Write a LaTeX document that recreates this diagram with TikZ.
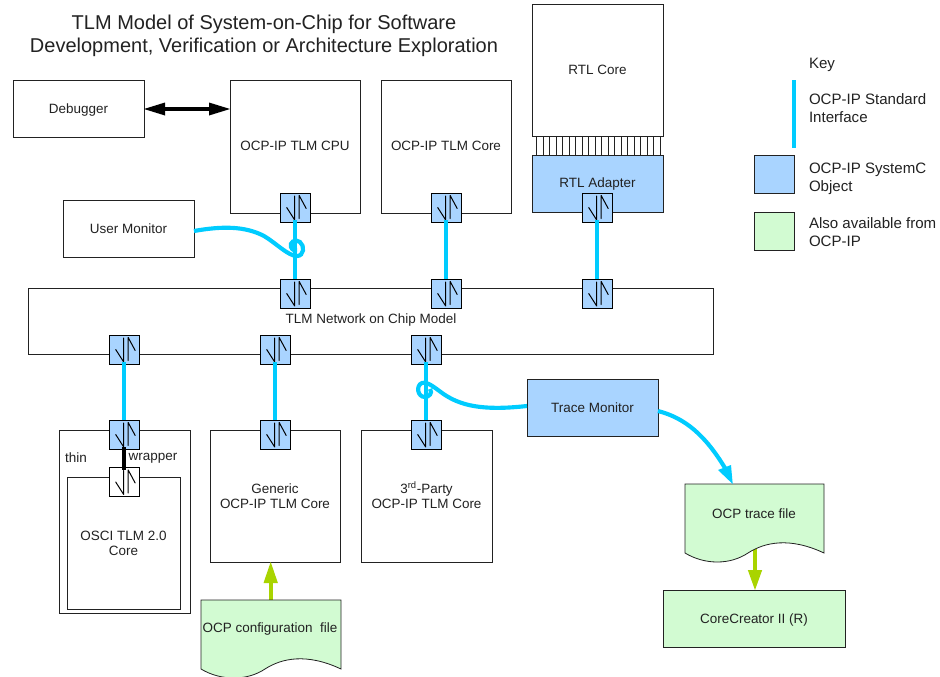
\documentclass[tikz,border=0pt]{standalone}
\usepackage{fontspec}
\setmainfont{Liberation Sans}
\usetikzlibrary{arrows.meta}
\definecolor{ipblue}{HTML}{A9D4FF}
\definecolor{ipgreen}{HTML}{D2FBD2}
\definecolor{ipcyan}{HTML}{00CCFF}
\definecolor{ipolive}{HTML}{A9D400}
\definecolor{ink}{HTML}{222222}
\tikzset{
  x=0.75pt,y=-0.75pt,
  sz/.style 2 args={minimum width=#1*0.75pt,minimum height=#2*0.75pt},
  boxnode/.style={draw=ink,line width=0.6pt,fill=white,inner sep=0pt,outer sep=0pt,text=ink,align=center,text height=7.2pt,text depth=0pt,font=\fontsize{10.1}{11.3}\selectfont},
  bluebox/.style={boxnode,fill=ipblue},
  greenbox/.style={boxnode,fill=ipgreen},
  portnode/.style={draw=black,line width=0.65pt,fill=ipblue,inner sep=0pt,outer sep=0pt,sz={30}{29}},
  whiteport/.style={portnode,fill=white},
  label/.style={inner sep=0pt,outer sep=0pt,text=ink,align=center,font=\fontsize{10.1}{11.3}\selectfont},
  keylabel/.style={inner sep=0pt,outer sep=0pt,text=ink,align=left,anchor=west,font=\fontsize{11.3}{13.5}\selectfont},
  cyanlink/.style={draw=ipcyan,line width=3.5pt},
  curvelink/.style={draw=ipcyan,line width=3.1pt},
  olivelink/.style={draw=ipolive,line width=3.2pt,line cap=round},
  glyph/.style={draw=black,line width=0.75pt,line cap=round,line join=round},
  docshape/.style={draw=ink,line width=0.6pt,fill=ipgreen}
}
\newcommand{\portglyph}[1]{%
  \draw[glyph] (#1) ++(-0.3,-11.5) -- ++(0,24) -- ++(-8,-12.5);
  \draw[glyph] (#1) ++(4.2,11) -- ++(0,-23) -- ++(7,13);
}
\begin{document}
\begin{tikzpicture}
\useasboundingbox (0,0) rectangle (940,676);
\fill[white] (0,0) rectangle (940,676);

% title
\node[inner sep=0pt,align=center,text=ink,font=\fontsize{15}{17.25}\selectfont] (title) at (264,36) {TLM Model of System-on-Chip for Software\\Development, Verification or Architecture Exploration};

% boxes
\node[boxnode,sz={131}{57}] (debugger) at (78.5,108.5) {Debugger};
\node[boxnode,sz={130}{133}] (cpu) at (295,146.5) {};
\node[label] (cputext) at (295,145.5) {OCP-IP TLM CPU};
\node[boxnode,sz={130}{133}] (core) at (446,146.5) {};
\node[label] (coretext) at (446,145.5) {OCP-IP TLM Core};
\node[boxnode,sz={131}{132}] (rtlcore) at (597.5,70) {RTL Core};
\node[bluebox,sz={131}{57}] (adapter) at (597.5,183.5) {};
\node[label] (adaptertext) at (597.5,184) {RTL Adapter};
\node[boxnode,sz={131}{57}] (usermon) at (128.5,228.5) {User Monitor};
\node[boxnode,sz={685}{66}] (bus) at (370.5,321) {};
\node[label] (bustext) at (371,320.5) {TLM Network on Chip Model};
\node[boxnode,sz={131}{183}] (wrapper) at (124.5,521.5) {};
\node[boxnode,sz={113}{132}] (inner) at (123.5,543) {};
\node[label] (innertext) at (123.5,543) {OSCI TLM 2.0\\Core};
\node[boxnode,sz={130}{132}] (generic) at (275,496) {};
\node[label] (generictext) at (275,496) {Generic\\OCP-IP TLM Core};
\node[boxnode,sz={131}{132}] (third) at (426.5,496) {};
\node[label] (thirdtext) at (426.5,495) {3\textsuperscript{rd}-Party\\OCP-IP TLM Core};
\node[bluebox,sz={131}{57}] (tracemon) at (592.5,407.5) {Trace Monitor};
\node[greenbox,sz={182}{57}] (corecreator) at (754,618.5) {CoreCreator II (R)};

% comb between RTL core and adapter
\foreach \cx in {536.5,543,...,660}
  \draw[draw=ink,line width=0.5pt] (\cx,136) -- (\cx,155);

\node[label] at (76,458) (thin) {thin};
\node[label] at (153,458) (wrap) {wrapper};

% olive arrows run behind the documents
\coordinate (tfout) at (755,548);
\draw[olivelink] (tfout) -- ([yshift=10pt]corecreator.north -| tfout);
\fill[ipolive] (corecreator.north -| tfout) -- +(-7.2,-20) -- +(7.2,-20) -- cycle;
\coordinate (cfout) at (270.7,601);
\draw[olivelink] (cfout) -- (270.7,580);
\fill[ipolive] (generic.south -| cfout) -- +(-7.2,21) -- +(7.2,21) -- cycle;

% documents
\draw[docshape] (685,484) -- (824,484) -- (824,553) .. controls (790,537) and (765,542) .. (748,553) .. controls (730,565) and (705,565) .. (685,553) -- cycle;
\node[label] (tracefile) at (754,514) {OCP trace file};
\draw[docshape] (201,600) -- (341,600) -- (341,669) .. controls (307,653) and (282,658) .. (265,669) .. controls (247,681) and (221,681) .. (201,669) -- cycle;
\node[label] (configfile) at (270,629) {OCP configuration\ \ file};

% key
\node[keylabel] (keytitle) at (809,65) {Key};
\coordinate (keya) at (794,80);
\coordinate (keyb) at (794,148);
\draw[cyanlink] (keya) -- (keyb);
\node[keylabel] (keyline) at (809,108) {OCP-IP Standard\\Interface};
\node[bluebox,sz={40}{38}] (keyblue) at (774,174) {};
\node[keylabel] (keybluetext) at (809,178.5) {OCP-IP SystemC\\Object};
\node[greenbox,sz={40}{38}] (keygreen) at (774,231) {};
\node[keylabel] (keygreentext) at (809,232.5) {Also available from\\OCP-IP};

% ports
\foreach \n/\px/\py in {pa/295/207.5,pb/295/293.5,pc/446/207.5,pd/446/293.5,pe/597/207.5,pf/597/293.5,pg/124/349.5,ph/275/349.5,pi/426/349.5,pj/124/434.5,pk/275/434.5,pl/426/434.5}{
  \node[portnode] (\n) at (\px,\py) {};
  \portglyph{\n}
}
\node[whiteport] (pm) at (124,482) {};
\portglyph{pm}

% connectors
\draw[black,line width=3.6pt] ([yshift=1.5pt]pj.south) -- ([yshift=-1.5pt]pm.north);
\draw[cyanlink] ([yshift=1.5pt]pa.south) -- (pb.north);
\draw[cyanlink] ([yshift=1.5pt]pc.south) -- (pd.north);
\draw[cyanlink] ([yshift=1.5pt]pe.south) -- (pf.north);
\draw[cyanlink] ([yshift=1.5pt]pg.south) -- (pj.north);
\draw[cyanlink] ([yshift=1.5pt]ph.south) -- (pk.north);
\draw[cyanlink] ([yshift=1.5pt]pi.south) -- (pl.north);

% monitor curves with a small loop
\coordinate (umend) at (usermon.east |- 0,231);
\draw[curvelink] (umend) .. controls (222,226) and (245,226) .. (264,236) .. controls (276,243) and (288,256) .. (297,256) .. controls (304,256) and (305,246) .. (300,242) .. controls (295,238) and (289,243) .. (291,247) .. controls (292,250) and (295,251) .. (297,250);
\coordinate (tmend) at (tracemon.west |- 0,406);
\draw[curvelink] (tmend) .. controls (490,410) and (465,408) .. (445,395) .. controls (436,389) and (428,381) .. (422,383) .. controls (416,385) and (417,397) .. (425,397) .. controls (429,397) and (433,393) .. (430,389);

% trace monitor to file
\coordinate (tmout) at (tracemon.east |- 0,411);
\coordinate (tfin) at (732.7,484);
\draw[curvelink] (tmout) .. controls (685,418) and (705,435) .. (725,468);
\fill[ipcyan] (tfin) -- (718,470) -- (731,465) -- cycle;

% debugger double arrow
\draw[draw=black,line width=3.3pt] ([xshift=12pt]debugger.east |- 0,109) -- ([xshift=-12pt]cpu.west |- 0,109);
\fill[black] (debugger.east |- 0,109) -- +(21,-6.5) -- +(21,6.5) -- cycle;
\fill[black] (cpu.west |- 0,109) -- +(-21,-6.5) -- +(-21,6.5) -- cycle;
\end{tikzpicture}
\end{document}
